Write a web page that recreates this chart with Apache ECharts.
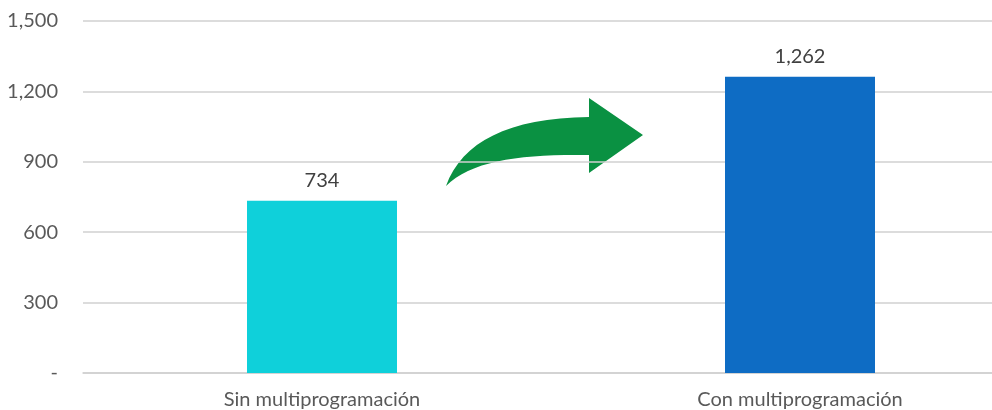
<!DOCTYPE html>
<html>
<head>
<meta charset="utf-8">
<script src="https://cdn.jsdelivr.net/npm/echarts@6/dist/echarts.min.js"></script>
<style>
  html, body { margin: 0; padding: 0; background: #fff; }
  #chart { width: 992px; height: 410px; }
</style>
</head>
<body>
<div id="chart"></div>
<script>
// Data
const categories = ['Sin multiprogramación', 'Con multiprogramación'];
const values = [734, 1262];
const barColors = ['#0FD0DA', '#0E6CC4'];
const yTicks = [0, 300, 600, 900, 1200, 1500];

const fmt = v => v === 0 ? '-' : v.toLocaleString('en-US');

// Curved green arrow between the bars
echarts.graphic.registerShape('curvedArrow', echarts.graphic.extendPath(
  'M446,186 C462,142 508,118 589,117 L589,98 L643,135 L589,173 L589,155 C522,154 472,160 446,186 Z'
));

const FONT = 'Lato';
const FS = 20;

const chart = echarts.init(document.getElementById('chart'));
chart.setOption({
  animation: false,
  textStyle: { fontFamily: FONT },
  // the plot runs past the right edge of the canvas
  grid: {
    left: 83, right: -47, top: 21, bottom: 37,
    containLabel: false,
    outerBoundsMode: 'none'
  },
  xAxis: {
    type: 'category',
    data: categories,
    axisLine: { show: true, lineStyle: { color: '#d0d0d0', width: 1.5 } },
    axisTick: { show: false },
    axisLabel: { color: '#595959', fontFamily: FONT, fontSize: FS, margin: 17 }
  },
  yAxis: {
    type: 'value',
    min: yTicks[0],
    max: yTicks[yTicks.length - 1],
    interval: 300,
    axisLine: { show: false },
    axisTick: { show: false },
    splitLine: { lineStyle: { color: '#d0d0d0', width: 1.5 } },
    axisLabel: { color: '#595959', fontFamily: FONT, fontSize: FS, margin: 25, formatter: fmt }
  },
  series: [{
    type: 'bar',
    barWidth: 150,
    data: values.map((v, i) => ({ value: v, itemStyle: { color: barColors[i] } })),
    label: {
      show: true,
      position: 'top',
      distance: 10,
      color: '#404040',
      fontFamily: FONT,
      fontSize: FS,
      formatter: p => fmt(p.value)
    }
  }],
  graphic: [{
    type: 'curvedArrow',
    style: { fill: '#0A9142' }
  }]
});
</script>
</body>
</html>
